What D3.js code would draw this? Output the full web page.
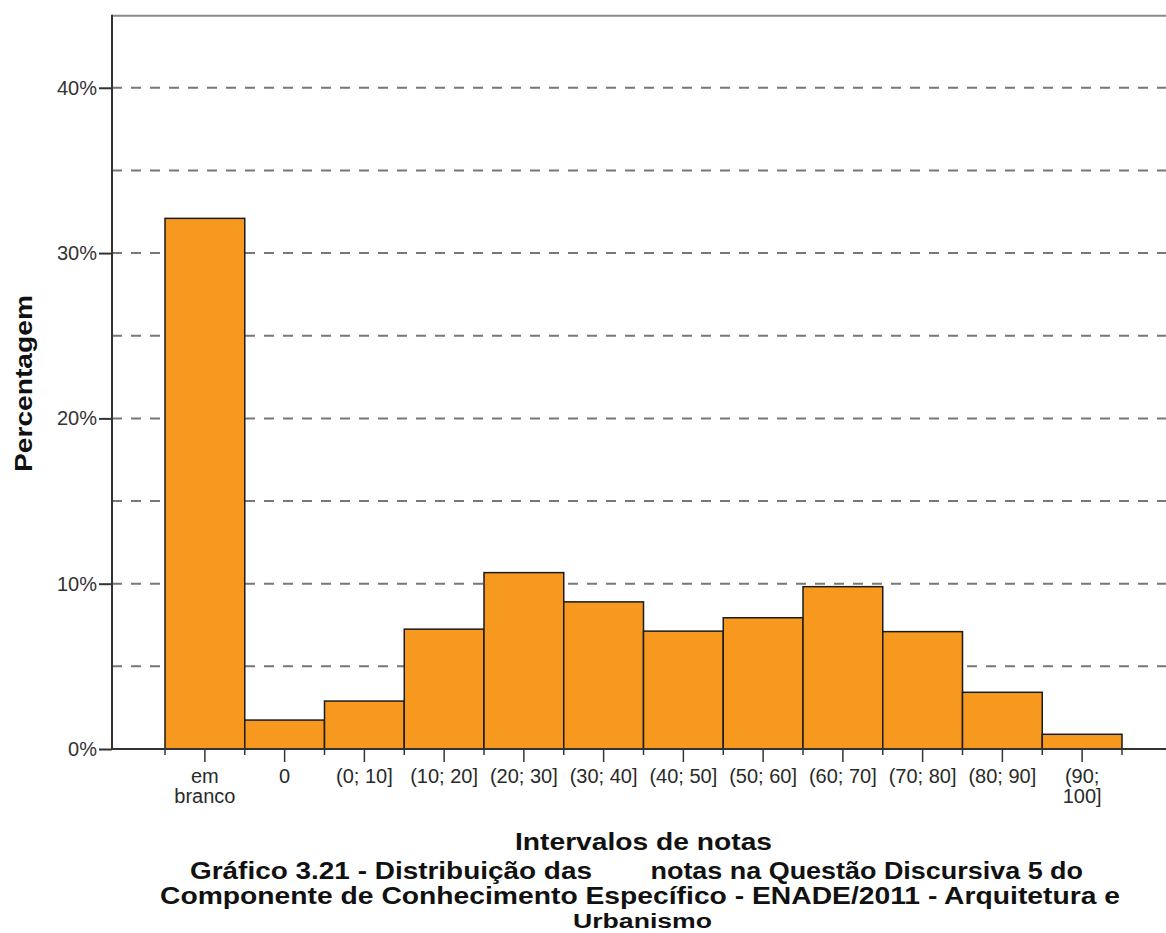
<!DOCTYPE html>
<html><head><meta charset="utf-8">
<script src="https://cdn.jsdelivr.net/npm/d3@7"></script>
<style>body{margin:0;background:#fff}svg{display:block}</style>
</head><body>
<script>
const categories = ["em branco","0","(0; 10]","(10; 20]","(20; 30]","(30; 40]","(40; 50]","(50; 60]","(60; 70]","(70; 80]","(80; 90]","(90; 100]"];
const categoryLines = [["em","branco"],["0"],["(0; 10]"],["(10; 20]"],["(20; 30]"],["(30; 40]"],["(40; 50]"],["(50; 60]"],["(60; 70]"],["(70; 80]"],["(80; 90]"],["(90;","100]"]];
const values = [32.1,1.75,2.9,7.25,10.67,8.9,7.13,7.94,9.82,7.1,3.43,0.89];
const yTicks = [0,10,20,30,40];
const gridValues = [5,10,15,20,25,30,35,40];
const xTitle = "Intervalos de notas";
const yTitle = "Percentagem";
const captionLine1 = ["Gráfico 3.21 - Distribuição das", "notas na Questão Discursiva 5 do"];
const captionLine2 = "Componente de Conhecimento Específico - ENADE/2011 - Arquitetura e";
const captionLine3 = "Urbanismo";

(function(){
const W=1166,H=933;
const FONT="Liberation Sans, Arial, sans-serif";
const svg=d3.select("body").append("svg").attr("width",W).attr("height",H);
const pLeft=112, pTop=15.7, pBottom=749, barL=165, barW=79.75;
const y=d3.scaleLinear().domain([0,44.36]).range([pBottom,pTop]);
const x=d3.scaleBand().domain(categories).range([barL,barL+barW*categories.length]).padding(0);

// grid
svg.append("g").selectAll("line").data(gridValues).join("line")
  .attr("x1",pLeft).attr("x2",W).attr("y1",d=>y(d)).attr("y2",d=>y(d))
  .attr("stroke","#777").attr("stroke-width",2).attr("stroke-dasharray","10,9");

// top border
svg.append("line").attr("x1",pLeft).attr("x2",W).attr("y1",pTop).attr("y2",pTop).attr("stroke","#8a8a8a").attr("stroke-width",2);

// bars
svg.append("g").selectAll("rect").data(values).join("rect")
  .attr("x",(d,i)=>x(categories[i])).attr("width",x.bandwidth())
  .attr("y",d=>y(d)).attr("height",d=>y(0)-y(d))
  .attr("fill","#F7991F").attr("stroke","#1a1a1a").attr("stroke-width",1.5);

// x axis baseline
svg.append("line").attr("x1",pLeft).attr("x2",W).attr("y1",pBottom).attr("y2",pBottom).attr("stroke","#333").attr("stroke-width",2);
const edges=categories.map(c=>x(c)).concat([x(categories[categories.length-1])+x.bandwidth()]);
svg.append("g").selectAll("line").data(edges).join("line")
  .attr("x1",d=>d).attr("x2",d=>d).attr("y1",pBottom).attr("y2",pBottom+6).attr("stroke","#333").attr("stroke-width",1.5);
svg.append("g").selectAll("line").data(categories).join("line")
  .attr("x1",d=>x(d)+x.bandwidth()/2).attr("x2",d=>x(d)+x.bandwidth()/2).attr("y1",pBottom).attr("y2",pBottom+13).attr("stroke","#333").attr("stroke-width",1.5);
const xl=svg.append("g").attr("font-family",FONT).attr("font-size",20).attr("fill","#2a2a2a").attr("text-anchor","middle");
categories.forEach((c,i)=>{
  const cx=x(c)+x.bandwidth()/2;
  const t=xl.append("text").attr("x",cx).attr("y",783);
  categoryLines[i].forEach((ln,j)=>t.append("tspan").attr("x",cx).attr("dy",j?20:0).text(ln));
});

// y axis
const ya=svg.append("g").attr("transform",`translate(${pLeft},0)`)
  .call(d3.axisLeft(y).tickValues(yTicks).tickFormat(d=>d+"%").tickSize(13).tickPadding(2));
ya.select(".domain").remove();
ya.selectAll(".tick line").attr("stroke","#333").attr("stroke-width",2);
ya.selectAll(".tick text").attr("font-family",FONT).attr("font-size",20).attr("fill","#333");
svg.append("line").attr("x1",pLeft).attr("x2",pLeft).attr("y1",pTop-1).attr("y2",pBottom+1).attr("stroke","#333").attr("stroke-width",2);

// titles
svg.append("text").attr("transform","translate(32,383.5) rotate(-90)").attr("text-anchor","middle")
  .attr("font-family",FONT).attr("font-weight","bold").attr("font-size",24).attr("fill","#111")
  .attr("textLength",177).attr("lengthAdjust","spacingAndGlyphs").text(yTitle);
const tf=svg.append("g").attr("font-family",FONT).attr("font-weight","bold").attr("font-size",23).attr("fill","#111");
tf.append("text").attr("x",515).attr("y",850).attr("textLength",257).attr("lengthAdjust","spacingAndGlyphs").text(xTitle);
const c1=tf.append("text").attr("y",879);
c1.append("tspan").attr("x",190).attr("textLength",402).attr("lengthAdjust","spacingAndGlyphs").text(captionLine1[0]);
c1.append("tspan").attr("x",643).attr("textLength",440).attr("lengthAdjust","spacingAndGlyphs").text(" "+captionLine1[1]);
tf.append("text").attr("x",160).attr("y",904).attr("textLength",960).attr("lengthAdjust","spacingAndGlyphs").text(captionLine2);
tf.append("text").attr("x",573).attr("y",928).attr("font-size",20).attr("textLength",139).attr("lengthAdjust","spacingAndGlyphs").text(captionLine3);
})();
</script>
</body></html>
